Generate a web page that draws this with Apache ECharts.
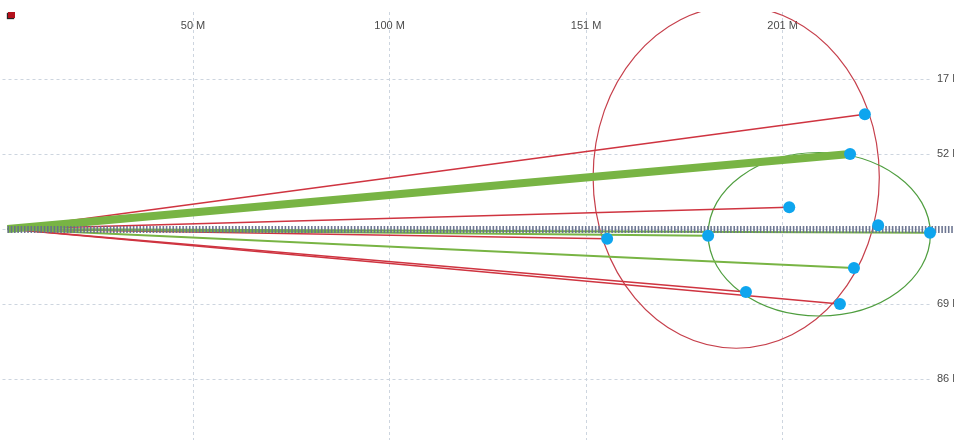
<!DOCTYPE html>
<html>
<head>
<meta charset="utf-8">
<style>
  html, body { margin: 0; padding: 0; background: #fff; }
  #chart { width: 954px; height: 440px; }
</style>
<script src="https://cdn.jsdelivr.net/npm/echarts@6/dist/echarts.min.js"></script>
</head>
<body>
<div id="chart"></div>
<script>
// Horizontal axis: millions, ticks every 50.4 M
const xTickStep = 50.4;
const xMax = 239.4;
// Vertical axis: tick value -> label shown on the right
const yTickValues = [-2, -1, 0, 1, 2];
const yTickLabels = ['86 M', '69 M', '', '52 M', '17 M'];

// Every ray starts from the same point
const rayOrigin = [2.8, 0];
// Red rays: end points [x, y]
const redEnds = [
  [222.7, 1.53],
  [203.3, 0.29],
  [216.3, -1.0],
  [192.2, -0.84],
  [156.6, -0.13]
];
// Green rays: end points [x, y]
const greenEnds = [
  [239.4, -0.05],
  [182.5, -0.09],
  [219.9, -0.52]
];
// Heavy green ray
const boldEnd = [218.9, 1.0];
// Point sitting on the base line, no ray of its own
const baseDots = [[226.1, 0.05]];
// Dashed base line, running off the right edge
const baseEnd = [250, 0];
// Spread ellipses: [centre x, centre y, radius x, radius y]
const redSpread = [189.7, 0.69, 36.7, 2.28];
const greenSpread = [211.0, -0.07, 28.5, 1.09];

const RED = '#cf3440';
const GREEN = '#78b444';
const DOT = '#0ea5ee';
const FONT = '"Liberation Sans", Arial, sans-serif';

function rays(ends, width, color) {
  return ends.map(function (e) {
    return { coords: [rayOrigin, e], lineStyle: { width: width, color: color, opacity: 1 } };
  });
}

function ellipseItem(params, api) {
  const c = api.coord([api.value(0), api.value(1)]);
  const s = api.size([api.value(2), api.value(3)]);
  return {
    type: 'ellipse',
    shape: { cx: c[0], cy: c[1], rx: s[0], ry: s[1] },
    style: { fill: 'none', stroke: api.value(4) === 0 ? '#c63f4b' : '#4f9e3f', lineWidth: 1.2 }
  };
}

const chart = echarts.init(document.getElementById('chart'));
chart.setOption({
  animation: false,
  backgroundColor: '#fff',
  textStyle: { fontFamily: FONT },
  legend: {
    left: 8, top: 12, padding: 0, itemWidth: 7, itemHeight: 6, icon: 'rect',
    selectedMode: false,
    formatter: function () { return ''; },
    itemStyle: { color: '#b3121c', shadowColor: 'rgba(0,0,0,0.85)', shadowOffsetX: -1, shadowOffsetY: 1, shadowBlur: 1 },
    data: ['Red rays']
  },
  grid: { left: -3.5, right: 24, top: 12, bottom: -14, containLabel: false, outerBoundsMode: 'none' },
  xAxis: {
    type: 'value', position: 'top', min: 0, max: xMax, interval: xTickStep,
    axisLine: { show: false }, axisTick: { show: false },
    axisLabel: {
      inside: true, margin: 8, color: '#4a4a4a', fontSize: 11, fontFamily: FONT,
      showMinLabel: false, showMaxLabel: false,
      formatter: function (v) { return Math.floor(v) + ' M'; }
    },
    splitLine: { show: true, showMinLine: false, showMaxLine: false, lineStyle: { color: '#cdd5df', type: [3, 3] } }
  },
  yAxis: {
    type: 'value', position: 'right', min: -3, max: 2.893, interval: 1,
    axisLine: { show: false }, axisTick: { show: false },
    axisLabel: {
      margin: 7, color: '#4a4a4a', fontSize: 11, fontFamily: FONT, showMaxLabel: false,
      overflow: 'none', hideOverlap: false,
      formatter: function (v) {
        const i = yTickValues.indexOf(Math.round(v * 1000) / 1000);
        return i < 0 ? '' : yTickLabels[i];
      }
    },
    splitLine: { show: true, showMinLine: false, showMaxLine: false, lineStyle: { color: '#cdd5df', type: [3, 3] } }
  },
  series: [
    {
      type: 'custom', name: 'Spread', coordinateSystem: 'cartesian2d', clip: true,
      encode: { x: 0, y: 1 }, z: 2,
      renderItem: ellipseItem,
      data: [redSpread.concat([0]), greenSpread.concat([1])]
    },
    {
      type: 'lines', name: 'Red rays', coordinateSystem: 'cartesian2d', z: 3,
      color: '#b3121c',
      data: rays(redEnds, 1.6, RED)
    },
    {
      type: 'lines', name: 'Green rays', coordinateSystem: 'cartesian2d', z: 3,
      data: rays(greenEnds, 2, GREEN).concat(rays([boldEnd], 8, GREEN))
    },
    {
      type: 'lines', name: 'Base', coordinateSystem: 'cartesian2d', z: 4,
      clip: false,
      data: [{ coords: [rayOrigin, baseEnd], lineStyle: { width: 7, color: '#66708c', type: [1.6, 1.7], cap: 'butt', opacity: 0.95 } }]
    },
    {
      type: 'scatter', name: 'Ends', z: 6, symbolSize: 12,
      itemStyle: { color: DOT, opacity: 1 },
      data: redEnds.concat(greenEnds, [boldEnd], baseDots)
    }
  ]
});
</script>
</body>
</html>
